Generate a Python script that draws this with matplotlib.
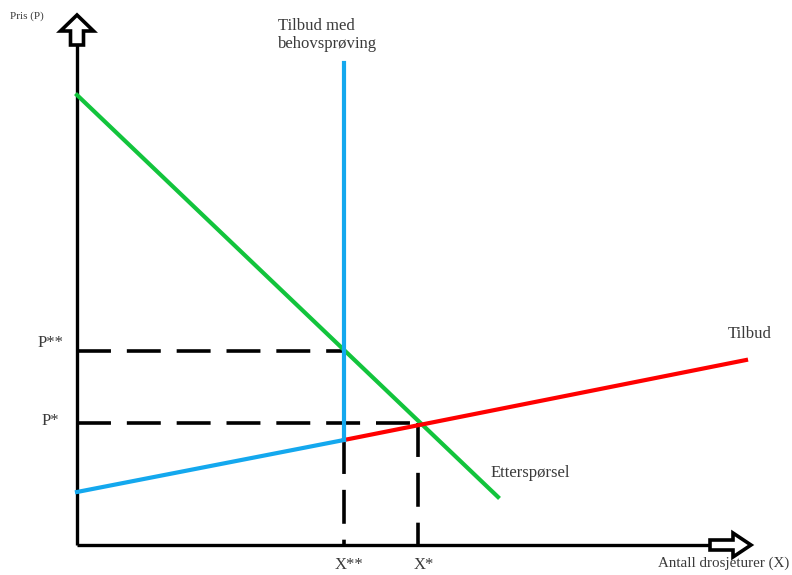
import matplotlib.pyplot as plt
from matplotlib.patches import FancyArrow

# points of the diagram (screen-like units, y grows downward)
origin = [77, 545]
y_top = 44
x_end = 711

demand_x = [77, 498]
demand_y = [95, 497]
supply_reg_x = [77, 344]      # blue part of supply before the cap
supply_reg_y = [492, 440]
cap_x = [344, 344]
cap_y = [440, 63]
supply_x = [344, 746]
supply_y = [440, 360]

p_star, p_2star = 423, 351
x_star, x_2star = 418, 344

p_labels = ["P*", "P**"]
x_labels = ["X*", "X**"]

fig = plt.figure(figsize=(7.92, 5.75), dpi=100)
ax = fig.add_axes([0, 0, 1, 1])
ax.set_xlim(0, 792)
ax.set_ylim(575, 0)
ax.axis("off")

font = {"family": "Liberation Serif", "color": "#3a3a3a", "size": 12}

# axes
ax.plot([origin[0], origin[0]], [origin[1], y_top], color="black", lw=2.4, solid_capstyle="butt")
ax.plot([origin[0], x_end], [origin[1], origin[1]], color="black", lw=2.4, solid_capstyle="butt")
ax.add_patch(FancyArrow(origin[0], y_top + 1, 0, -14, width=13, head_width=33, head_length=16,
                        length_includes_head=False, fc="white", ec="black", lw=2.6, zorder=5))
ax.add_patch(FancyArrow(x_end - 1, origin[1], 23, 0, width=10, head_width=24, head_length=18,
                        length_includes_head=False, fc="white", ec="black", lw=2.6, zorder=5))

# dashed guide lines
dash = dict(color="black", lw=2.6, dashes=(9.4, 4.4))
ax.plot([origin[0], x_2star], [p_2star, p_2star], **dash)
ax.plot([origin[0], x_star], [p_star, p_star], **dash)
ax.plot([x_2star, x_2star], [supply_reg_y[1], origin[1]], **dash)
ax.plot([x_star, x_star], [p_star, origin[1]], **dash)

# curves
ax.plot(demand_x, demand_y, color="#12c43c", lw=3, zorder=3)
ax.plot(supply_x, supply_y, color="#ff0000", lw=3, zorder=3)
ax.plot(supply_reg_x, supply_reg_y, color="#14a8ee", lw=3, zorder=4)
ax.plot(cap_x, cap_y, color="#14a8ee", lw=3, zorder=4)

# labels
ax.text(64, 343, p_labels[1], ha="right", va="center", fontdict=font)
ax.text(59, 421, p_labels[0], ha="right", va="center", fontdict=font)
ax.text(x_2star + 5, 565, x_labels[1], ha="center", va="center", fontdict=font)
ax.text(x_star + 6, 565, x_labels[0], ha="center", va="center", fontdict=font)
ax.text(10, 16, "Pris (P)", ha="left", va="center", fontdict={**font, "size": 8})
ax.text(278, 35, "Tilbud med\nbehovsprøving", ha="left", va="center", linespacing=1.2, fontdict=font)
ax.text(728, 334, "Tilbud", ha="left", va="center", fontdict=font)
ax.text(491, 473, "Etterspørsel", ha="left", va="center", fontdict=font)
ax.text(789, 563, "Antall drosjeturer (X)", ha="right", va="center", fontdict={**font, "size": 10.8})

fig.savefig("out.png", dpi=100)
